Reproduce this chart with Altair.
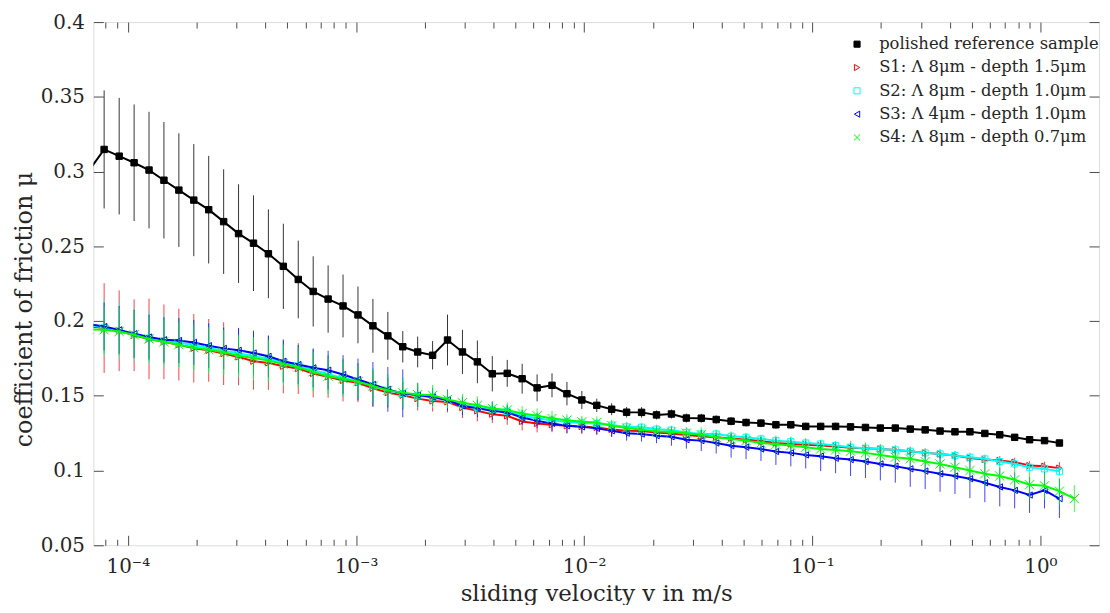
import altair as alt
import pandas as pd

# sliding velocity (m/s), one value per measurement step
V = [6.78e-5, 7.87e-5, 9.16e-5, 1.065e-4, 1.238e-4, 1.439e-4, 1.673e-4, 1.945e-4, 2.261e-4, 2.629e-4,
     3.056e-4, 3.553e-4, 4.130e-4, 4.802e-4, 5.583e-4, 6.491e-4, 7.546e-4, 8.773e-4, 1.020e-3, 1.186e-3,
     1.379e-3, 1.603e-3, 1.863e-3, 2.166e-3, 2.518e-3, 2.928e-3, 3.404e-3, 3.957e-3, 4.601e-3, 5.349e-3,
     6.219e-3, 7.229e-3, 8.405e-3, 9.768e-3, 1.136e-2, 1.320e-2, 1.535e-2, 1.785e-2, 2.075e-2, 2.413e-2,
     2.805e-2, 3.261e-2, 3.791e-2, 4.406e-2, 5.124e-2, 5.956e-2, 6.925e-2, 8.050e-2, 9.357e-2, 0.1088,
     0.1265, 0.1471, 0.1710, 0.1987, 0.2311, 0.2687, 0.3124, 0.3630, 0.4220, 0.4907,
     0.5705, 0.6632, 0.7709, 0.8960, 1.042, 1.211, 1.408]

NAMES = ["polished reference sample",
         "S1: Λ 8μm - depth 1.5μm",
         "S2: Λ 8μm - depth 1.0μm",
         "S3: Λ 4μm - depth 1.0μm",
         "S4: Λ 8μm - depth 0.7μm"]

REF_MU = [0.301, 0.3148, 0.3103, 0.3059, 0.3010, 0.2942, 0.2876, 0.2809, 0.2745, 0.2665, 0.2585, 0.2521,
          0.2450, 0.2366, 0.2278, 0.2198, 0.2147, 0.2101, 0.2041, 0.1968, 0.1901, 0.1828, 0.1793, 0.1771,
          0.1873, 0.1793, 0.1727, 0.1647, 0.1650, 0.1614, 0.1553, 0.1570, 0.1514, 0.1472, 0.1436, 0.1410,
          0.1390, 0.1389, 0.1372, 0.1378, 0.1351, 0.1350, 0.1341, 0.1330, 0.1321, 0.1317, 0.1306, 0.1306,
          0.1295, 0.1295, 0.1295, 0.1292, 0.1288, 0.1284, 0.1284, 0.1277, 0.1272, 0.1264, 0.1259, 0.1259,
          0.1248, 0.1239, 0.1222, 0.1206, 0.1200, 0.1184]
REF_ERR = [0.040, 0.0395, 0.039, 0.039, 0.039, 0.039, 0.038, 0.0375, 0.036, 0.035, 0.033, 0.032,
           0.0297, 0.0285, 0.026, 0.0235, 0.0225, 0.021, 0.019, 0.018, 0.016, 0.0105, 0.0103, 0.0095,
           0.017, 0.0148, 0.0143, 0.0118, 0.009, 0.010, 0.009, 0.008, 0.0078, 0.006, 0.0045, 0.004,
           0.0035, 0.0035, 0.003, 0.003, 0.003, 0.003,
           0.0028, 0.0028, 0.0027, 0.0027, 0.0026, 0.0026, 0.0025, 0.0025, 0.0025, 0.0024, 0.0024, 0.0024,
           0.0023, 0.0023, 0.0023, 0.0022, 0.0022, 0.0022, 0.0022, 0.0021, 0.0021, 0.0021, 0.002, 0.002]

S1_MU = [0.1965, 0.1953, 0.1935, 0.1905, 0.1880, 0.1861, 0.1842, 0.1818, 0.1804, 0.1782, 0.1760, 0.1731,
         0.1720, 0.1697, 0.1682, 0.1649, 0.1627, 0.1602, 0.1587, 0.1550, 0.1521, 0.1503, 0.1481, 0.1465,
         0.1459, 0.1421, 0.1399, 0.1377, 0.1366, 0.1328, 0.1315, 0.1306, 0.1299, 0.1294, 0.1288, 0.1275,
         0.1266, 0.1264, 0.1255, 0.1248,
         0.1237, 0.1229, 0.1222, 0.1215, 0.1206, 0.1197, 0.1184, 0.1178, 0.1173, 0.1167, 0.1160, 0.1153,
         0.1149, 0.1144, 0.1138, 0.1129, 0.1118, 0.1111, 0.1100, 0.1084, 0.1073, 0.1067, 0.1056, 0.1033,
         0.1029, 0.1016]
S1_ERR = [0.030, 0.030, 0.027, 0.024, 0.027, 0.025, 0.024, 0.023, 0.021, 0.021, 0.019, 0.019,
          0.018, 0.018, 0.017, 0.016, 0.014, 0.014,
          0.013, 0.012, 0.010, 0.009, 0.008, 0.007,
          0.007, 0.007, 0.007, 0.006, 0.006, 0.006,
          0.006, 0.005, 0.005, 0.005, 0.005, 0.005,
          0.004, 0.004, 0.004, 0.004, 0.004, 0.004,
          0.003, 0.003, 0.003, 0.003, 0.003, 0.003, 0.003, 0.003, 0.003, 0.003, 0.003, 0.003,
          0.003, 0.003, 0.003, 0.003, 0.003, 0.003, 0.003, 0.003, 0.003, 0.003, 0.003, 0.004]

S2_MU = [0.1972, 0.1958, 0.1937, 0.1910, 0.1886, 0.1868, 0.1856, 0.1838, 0.1820, 0.1802, 0.1784, 0.1765,
         0.1748, 0.1720, 0.1700, 0.1672, 0.1645, 0.1620, 0.1598, 0.1566, 0.1536, 0.1515, 0.1500, 0.1490,
         0.1470, 0.1440, 0.1422, 0.1405, 0.1395, 0.1366, 0.1350, 0.1335, 0.1325, 0.1318, 0.1314, 0.1304,
         0.1292, 0.1290, 0.1277, 0.1270,
         0.1255, 0.1244, 0.1244, 0.1229, 0.1222, 0.1211, 0.1200, 0.1193, 0.1184, 0.1178, 0.1167, 0.1156,
         0.1149, 0.1144, 0.1138, 0.1129, 0.1118, 0.1111, 0.1100, 0.1089, 0.1078, 0.1060, 0.1044, 0.1022,
         0.1011, 0.0995]
S2_ERR = [0.020, 0.019, 0.019, 0.018, 0.018, 0.018, 0.017, 0.017, 0.017, 0.016, 0.016, 0.016,
          0.015, 0.015, 0.014, 0.014, 0.013, 0.013, 0.012, 0.012, 0.011, 0.011,
          0.008, 0.007, 0.006, 0.006, 0.005, 0.005, 0.005, 0.004, 0.004, 0.004,
          0.004, 0.004, 0.003, 0.003, 0.003, 0.003, 0.003, 0.003, 0.003, 0.003,
          0.003, 0.003, 0.003, 0.003, 0.003, 0.003, 0.003, 0.003, 0.003, 0.003, 0.003, 0.003,
          0.003, 0.003, 0.003, 0.003, 0.003, 0.003, 0.003, 0.003, 0.003, 0.003, 0.003, 0.003]

S3_MU = [0.1980, 0.1963, 0.1941, 0.1915, 0.1893, 0.1875, 0.1870, 0.1857, 0.1835, 0.1817, 0.1804, 0.1786,
         0.1764, 0.1731, 0.1709, 0.1687, 0.1671, 0.1642, 0.1609, 0.1576, 0.1543, 0.1516, 0.1505, 0.1492,
         0.1472, 0.1432, 0.1417, 0.1399, 0.1388, 0.1355, 0.1332, 0.1315, 0.1299, 0.1292, 0.1282, 0.1266,
         0.1250, 0.1244, 0.1233, 0.1226, 0.1206, 0.1200, 0.1184, 0.1166, 0.1156, 0.1144, 0.1127, 0.1118,
         0.1104, 0.1096, 0.1082, 0.1073, 0.1060, 0.1044, 0.1029, 0.1011, 0.0996, 0.0978, 0.0963, 0.0945,
         0.0918, 0.0890, 0.0867, 0.0836, 0.0867, 0.0812]
S3_ERR = [0.016, 0.016, 0.016, 0.016, 0.015, 0.015, 0.015, 0.015, 0.015, 0.014, 0.015, 0.015,
          0.014, 0.014, 0.013, 0.013, 0.013, 0.013, 0.014, 0.015, 0.015, 0.016,
          0.008, 0.006, 0.007, 0.006, 0.006, 0.006, 0.005, 0.005, 0.005, 0.005,
          0.005, 0.004, 0.004, 0.004, 0.005, 0.005, 0.005, 0.006, 0.006, 0.007,
          0.007, 0.008, 0.008, 0.008, 0.009, 0.009, 0.009, 0.010, 0.010, 0.011,
          0.011, 0.011, 0.011, 0.012, 0.012, 0.012, 0.012, 0.013, 0.013, 0.013, 0.012, 0.012, 0.012, 0.013]

S4_MU = [0.1945, 0.1941, 0.1930, 0.1908, 0.1880, 0.1861, 0.1842, 0.1822, 0.1808, 0.1791, 0.1768, 0.1753,
         0.1735, 0.1713, 0.1691, 0.1660, 0.1631, 0.1614, 0.1594, 0.1565, 0.1536, 0.1521, 0.1508, 0.1503,
         0.1476, 0.1454, 0.1436, 0.1415, 0.1405, 0.1381, 0.1366, 0.1348, 0.1337, 0.1326, 0.1322, 0.1299,
         0.1284, 0.1272, 0.1262, 0.1258, 0.1250, 0.1240, 0.1222, 0.1211, 0.1200, 0.1184, 0.1175, 0.1167,
         0.1156, 0.1144, 0.1138, 0.1129, 0.1118, 0.1104, 0.1089, 0.1078, 0.1060, 0.1044, 0.1022, 0.1000,
         0.0978, 0.0963, 0.0938, 0.0905, 0.0898, 0.0862, 0.0812]
S4_ERR = [0.016, 0.016, 0.016, 0.016, 0.015, 0.015, 0.015, 0.015, 0.015, 0.015, 0.014, 0.014,
          0.014, 0.013, 0.013, 0.013, 0.012, 0.012, 0.011, 0.011, 0.010, 0.010,
          0.008, 0.007, 0.006, 0.006, 0.006, 0.005, 0.005, 0.005, 0.005, 0.005,
          0.004, 0.004, 0.004, 0.004, 0.004, 0.004, 0.004, 0.004, 0.004, 0.005,
          0.005, 0.005, 0.005, 0.005, 0.006, 0.006, 0.006, 0.006, 0.006, 0.007,
          0.007, 0.007, 0.007, 0.007, 0.008, 0.008, 0.008, 0.008, 0.008, 0.008,
          0.009, 0.009, 0.009, 0.009, 0.009]

MU = [REF_MU, S1_MU, S2_MU, S3_MU, S4_MU]
ERR = [REF_ERR, S1_ERR, S2_ERR, S3_ERR, S4_ERR]

X_MAJOR = [1e-4, 1e-3, 1e-2, 1e-1, 1]
X_MINOR = [8e-5, 9e-5] + [m * 10.0 ** e for e in (-4, -3, -2, -1) for m in range(2, 10)]
Y_TICKS = [0.05, 0.1, 0.15, 0.2, 0.25, 0.3, 0.35, 0.4]

# styles
COLORS = ["#000000", "#ff0000", "#00ffff", "#0000ff", "#00ff00"]
FILLS = ["#000000", "transparent", "transparent", "transparent", "transparent"]
SHAPES = ["square", "triangle-right", "square", "triangle-left", "M-1,-1L1,1M-1,1L1,-1"]
SIZES = [42, 40, 38, 40, 85]
FONT = "DejaVu Serif"
INK = "#262626"
FRAME = "#4d4d4d"

rows = []
for k, name in enumerate(NAMES):
    for v, m, e in zip(V, MU[k], ERR[k]):
        rows.append({"series": name, "v": v, "mu": m, "lo": m - e, "hi": m + e})
df = pd.DataFrame(rows)

xscale = alt.Scale(type="log", domain=[7.06e-5, 1.806], nice=False)
yscale = alt.Scale(domain=[0.05, 0.4], nice=False, zero=False)

label_expr = ("'10' + (round(log(datum.value)/LN10) < 0 ? '\u207b' : '') + "
              "['\u2070','\u00b9','\u00b2','\u00b3','\u2074','\u2075'][abs(round(log(datum.value)/LN10))]")

x_axes = [
    alt.Axis(orient="bottom", values=X_MAJOR, labelExpr=label_expr, ticks=False, domain=False, grid=False,
             labelFont=FONT, labelFontSize=20, labelColor=INK, labelPadding=11,
             title="sliding velocity v in m/s", titleFont=FONT, titleFontSize=23, titleFontWeight="normal",
             titleColor=INK, titleY=56, titleBaseline="alphabetic"),
    alt.Axis(orient="bottom", values=X_MAJOR, labels=False, domain=False, grid=False, tickSize=10,
             offset=-10, tickColor=FRAME, title=None),
    alt.Axis(orient="bottom", values=X_MINOR, labels=False, domain=False, grid=False, tickSize=6,
             offset=-6, tickColor=FRAME, title=None),
    alt.Axis(orient="top", values=X_MAJOR, labels=False, domain=False, grid=False, tickSize=10,
             offset=-10, tickColor=FRAME, title=None),
    alt.Axis(orient="top", values=X_MINOR, labels=False, domain=False, grid=False, tickSize=6,
             offset=-6, tickColor=FRAME, title=None),
]
y_axes = [
    alt.Axis(orient="left", values=Y_TICKS, format=".2~f", ticks=False, domain=False, grid=False,
             labelFont=FONT, labelFontSize=20, labelColor=INK, labelPadding=9,
             title="coefficient of friction μ", titleFont=FONT, titleFontSize=24, titleFontWeight="normal",
             titleColor=INK, titleX=-69, titleY=289, titleBaseline="middle"),
    alt.Axis(orient="left", values=Y_TICKS, labels=False, domain=False, grid=False, tickSize=10,
             offset=-10, tickColor=FRAME, title=None),
    alt.Axis(orient="right", values=Y_TICKS, labels=False, domain=False, grid=False, tickSize=10,
             offset=-10, tickColor=FRAME, title=None),
]

legend = alt.Legend(orient="none", legendX=757, legendY=14, title=None, labelFont=FONT,
                    labelFontSize=16.5, labelColor=INK, labelLimit=400, symbolSize=38, symbolStrokeWidth=1,
                    rowPadding=6.5, padding=0, labelOffset=14, symbolOffset=4)

layers = []


def next_axes():
    ax = x_axes.pop(0) if x_axes else None
    ay = y_axes.pop(0) if y_axes else None
    return ax, ay


for k, name in enumerate(NAMES):
    base = alt.Chart(df).transform_filter(alt.datum.series == name)

    ax, ay = next_axes()
    bars = base.mark_rule(strokeWidth=1, opacity=0.75 if k else 0.8, clip=True).encode(
        x=alt.X("v:Q", scale=xscale, axis=ax),
        y=alt.Y("lo:Q", scale=yscale, axis=ay),
        y2="hi:Q",
        color=alt.value(COLORS[k]),
    )
    ax, ay = next_axes()
    line = base.mark_line(strokeWidth=2, clip=True).encode(
        x=alt.X("v:Q", scale=xscale, axis=ax),
        y=alt.Y("mu:Q", scale=yscale, axis=ay),
        color=alt.value(COLORS[k]),
    )
    ax, ay = next_axes()
    pts = base.mark_point(size=SIZES[k], strokeWidth=1, opacity=1, clip=True).encode(
        x=alt.X("v:Q", scale=xscale, axis=ax),
        y=alt.Y("mu:Q", scale=yscale, axis=ay),
        stroke=alt.Stroke("series:N", scale=alt.Scale(domain=NAMES, range=COLORS), legend=legend),
        fill=alt.Fill("series:N", scale=alt.Scale(domain=NAMES, range=FILLS), legend=legend),
        shape=alt.Shape("series:N", scale=alt.Scale(domain=NAMES, range=SHAPES), legend=legend),
    )
    layers += [bars, line, pts]

chart = (
    alt.layer(*layers)
    .resolve_axis(x="independent", y="independent")
    .properties(width=1013, height=527,
                autosize=alt.AutoSizeParams(type="none"),
                padding={"left": 86, "top": 12, "right": 3, "bottom": 58},
                background="white")
    .configure_view(stroke=FRAME, strokeWidth=1)
    .configure(font=FONT)
)

chart.save("out.html", embed_options={"renderer": "svg", "actions": False})
